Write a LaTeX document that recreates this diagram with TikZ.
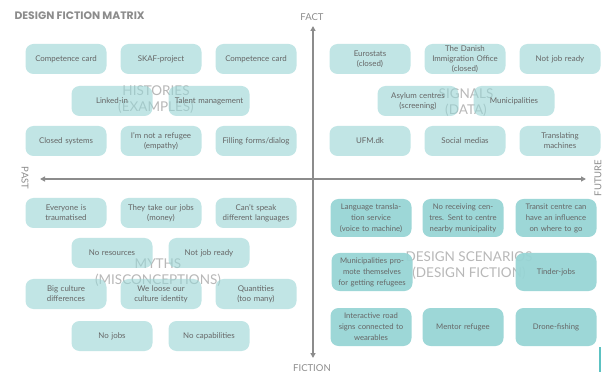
\documentclass[tikz,border=0pt]{standalone}
\usepackage{fontspec}
\setmainfont{Lato}
\newfontfamily\titlefont{Poppins}
\usetikzlibrary{arrows.meta}
\definecolor{cardT}{HTML}{98D5D5}
\definecolor{cardB}{HTML}{98D5D5}
\definecolor{txt}{HTML}{666666}
\definecolor{bglab}{HTML}{B8B8B8}
\definecolor{axisc}{HTML}{8C8C8C}
\definecolor{barc}{HTML}{5CC2C2}
\begin{document}
\begin{tikzpicture}[x=1pt,y=-1pt,
  card/.style={fill=cardT, fill opacity=0.6, text opacity=1, rounded corners=8pt, minimum width=81pt, minimum height=30pt,
    text width=79pt, align=center, font=\fontsize{7.9}{10}\selectfont, text=txt, inner sep=1pt},
  cardtall/.style={card, fill=cardB, fill opacity=0.95, minimum height=38pt, font=\fontsize{7.7}{11}\selectfont},
  quadlabel/.style={text=bglab, align=center, font=\fontsize{13.5}{16}\selectfont},
  axislabel/.style={text=axisc, font=\fontsize{9.5}{11}\selectfont},
  axisline/.style={draw=axisc, line width=1.3pt, {Triangle[length=5pt,width=5pt]}-{Triangle[length=5pt,width=5pt]}}
]
\useasboundingbox (0,0) rectangle (608,374);
\fill[white] (0,0) rectangle (608,374);

\node[anchor=west, text=axisc, font=\titlefont\bfseries\fontsize{10.8}{12}\selectfont] (title) at (11,16) {DESIGN FICTION MATRIX};

% Quadrant labels (behind the cards)
\node[quadlabel] (lh) at (156,100) {HISTORIES\\(EXAMPLES)};
\node[quadlabel] (ls) at (466,103) {SIGNALS\\(DATA)};
\node[quadlabel] (lm) at (158,273) {MYTHS\\(MISCONCEPTIONS)};
\node[quadlabel] (ld) at (469,266) {DESIGN SCENARIOS\\(DESIGN FICTION)};

% Histories (top-left)
\node[card] (h1) at (66,59) {Competence card};
\node[card] (h2) at (161,59) {SKAF-project};
\node[card] (h3) at (256,59) {Competence card};
\node[card] (h4) at (112,101) {Linked-in};
\node[card] (h5) at (209,101) {Talent management};
\node[card] (h6) at (66,141) {Closed systems};
\node[card] (h7) at (161,141) {I'm not a refugee\\(empathy)};
\node[card] (h8) at (256,141) {Filling forms/dialog};

% Signals (top-right)
\node[card] (s1) at (370,59) {Eurostats\\(closed)};
\node[card] (s2) at (465,59) {The Danish\\Immigration Office\\(closed)};
\node[card] (s3) at (560,59) {Not job ready};
\node[card] (s4) at (418,101) {Asylum centres\\(screening)};
\node[card] (s5) at (514,101) {Municipalities};
\node[card] (s6) at (370,141) {UFM.dk};
\node[card] (s7) at (465,141) {Social medias};
\node[card] (s8) at (560,141) {Translating\\machines};

% Myths (bottom-left)
\node[card] (m1) at (66,213) {Everyone is\\traumatised};
\node[card] (m2) at (161,213) {They take our jobs\\(money)};
\node[card] (m3) at (256,213) {Can't speak\\different languages};
\node[card] (m4) at (112,253) {No resources};
\node[card] (m5) at (209,253) {Not job ready};
\node[card] (m6) at (66,294) {Big culture\\differences};
\node[card] (m7) at (161,294) {We loose our\\culture identity};
\node[card] (m8) at (256,294) {Quantities\\(too many)};
\node[card] (m9) at (112,336) {No jobs};
\node[card] (m10) at (209,336) {No capabilities};

% Design scenarios (bottom-right)
\node[cardtall] (d1) at (371,218) {Language transla-\\tion service\\(voice to machine)};
\node[cardtall] (d2) at (463,218) {No receiving cen-\\tres. Sent to centre\\nearby municipality};
\node[cardtall] (d3) at (556,218) {Transit centre can\\have an influence\\on where to go};
\node[cardtall] (d4) at (372,272) {Municipalities pro-\\mote themselves\\for getting refugees};
\node[cardtall] (d5) at (556,272) {Tinder-jobs};
\node[cardtall] (d6) at (371,327) {Interactive road\\signs connected to\\wearables};
\node[cardtall] (d7) at (463,327) {Mentor refugee};
\node[cardtall] (d8) at (556,327) {Drone-fishing};

% Axes
\node[axislabel] (fact) at (312,17) {FACT};
\node[axislabel] (fiction) at (312,368) {FICTION};
\node[axislabel, rotate=-90] (past) at (25,178) {PAST};
\node[axislabel, rotate=90] (future) at (598,178) {FUTURE};
\coordinate (vtop) at (313,26);
\coordinate (vbot) at (313,358);
\coordinate (hleft) at (40,179);
\coordinate (hright) at (586,179);
\draw[axisline] (vbot) -- (vtop);
\draw[axisline] (hleft) -- (hright);

% small bar
\coordinate (bartop) at (599.5,347);
\coordinate (barbot) at (599.5,372);
\draw[barc, line width=2pt] (bartop) -- (barbot);
\end{tikzpicture}
\end{document}
